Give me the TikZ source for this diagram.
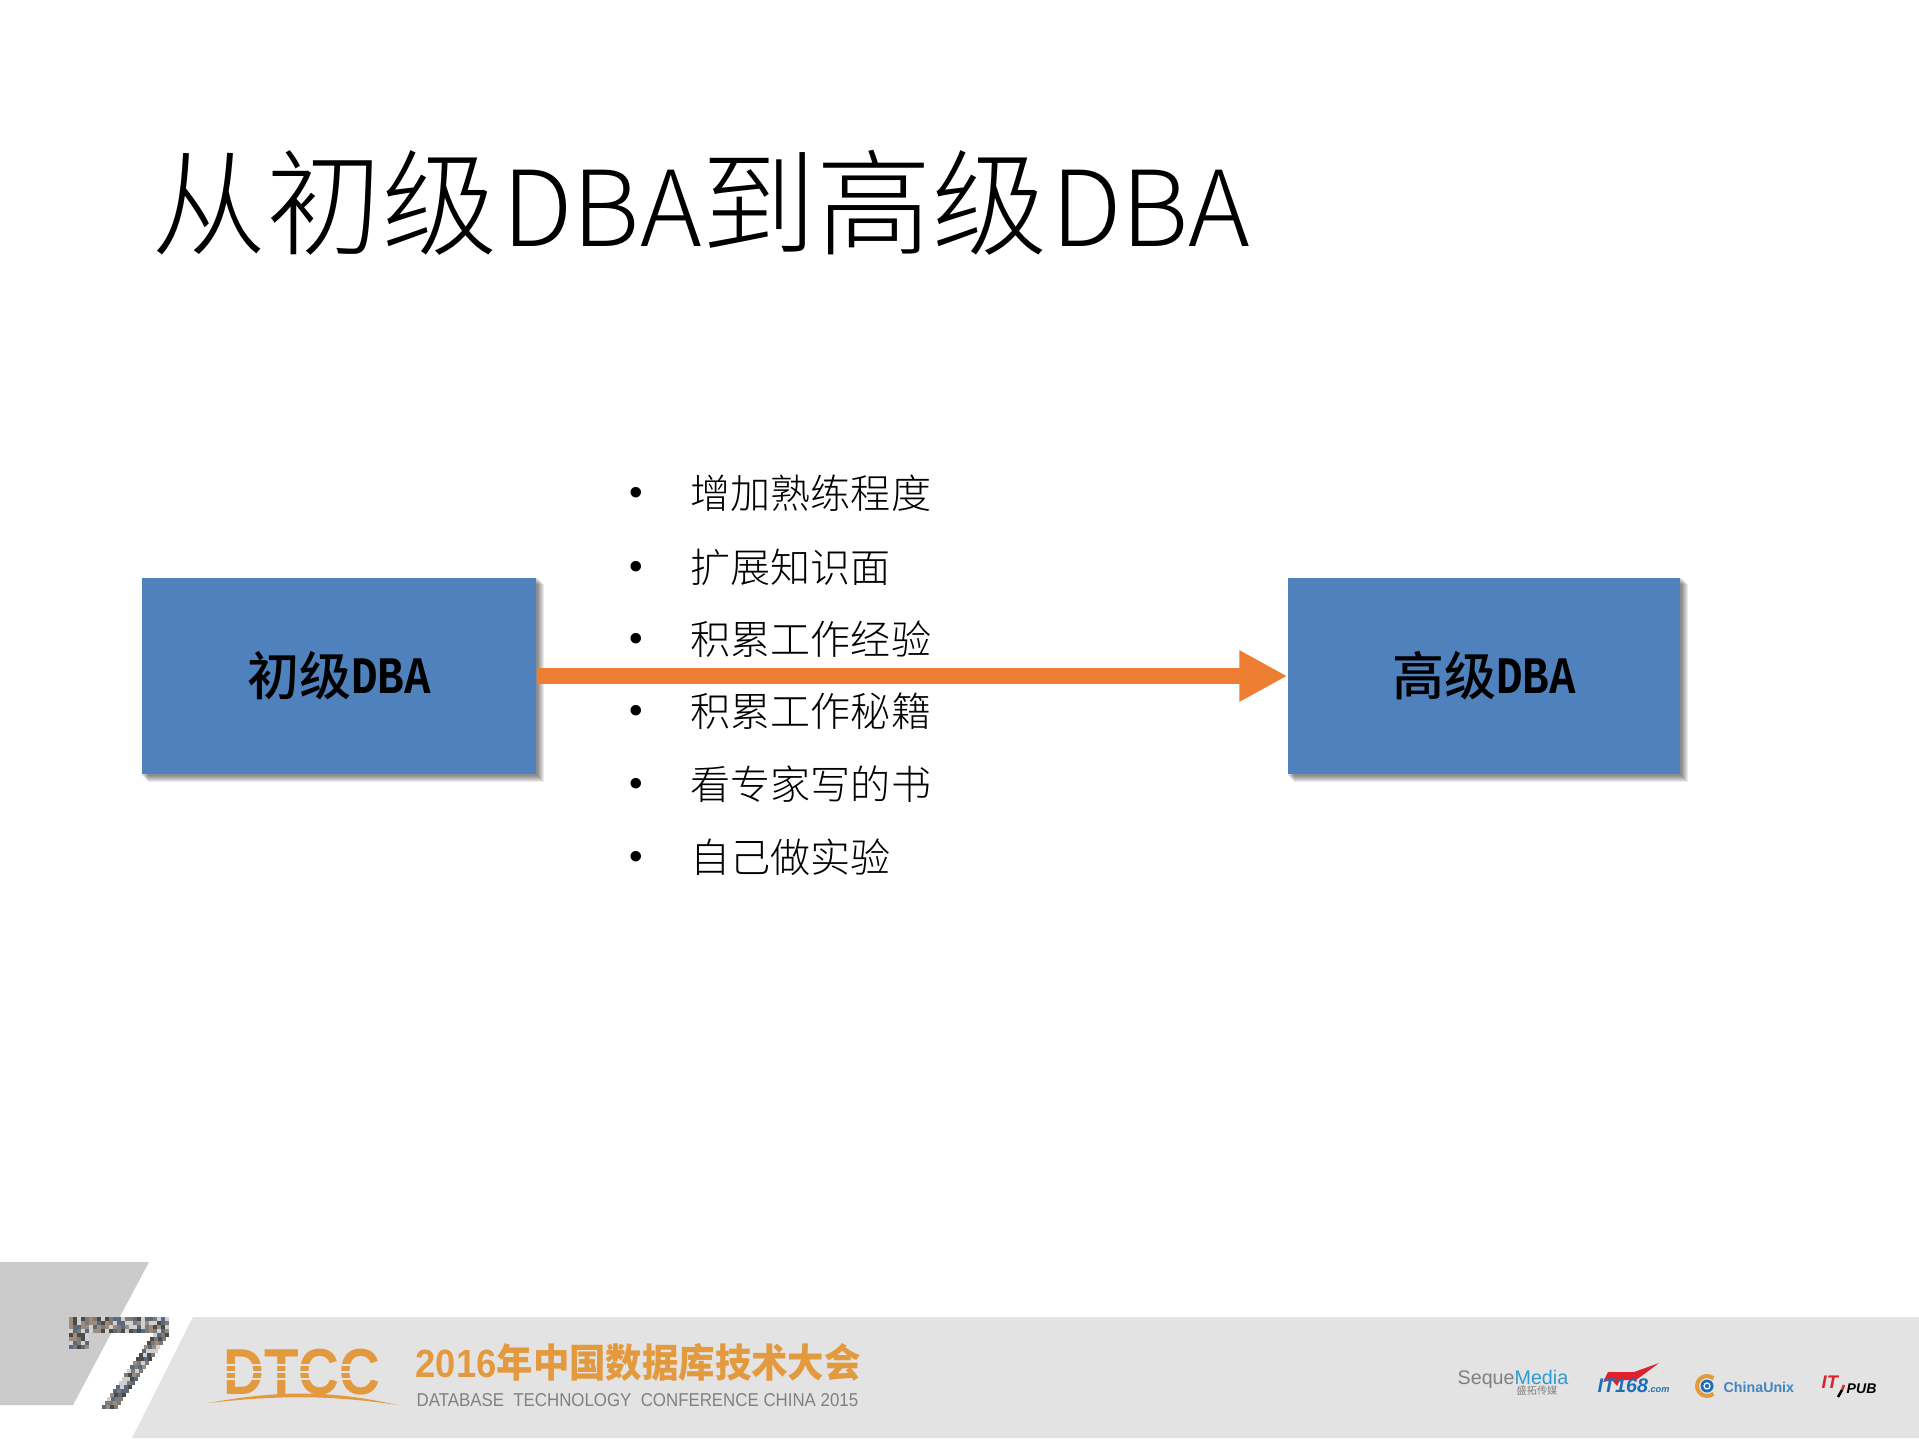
\documentclass[tikz,border=0pt]{standalone}
\usepackage{fontspec}
\setmainfont{Carlito}
\newfontfamily\cjk{Noto Sans CJK SC}
\newfontfamily\cjklight{Noto Sans CJK SC}[UprightFont=* Light]
\newfontfamily\cjkmedium{Noto Sans CJK SC}[UprightFont=* Medium]
\newfontfamily\dbafont{Liberation Mono}[UprightFont=* Bold]
\newfontfamily\heiti{Liberation Sans}
\usepackage{xcolor}
\usetikzlibrary{arrows.meta, positioning, calc, backgrounds}
\definecolor{boxblue}{HTML}{4F81BD}
\definecolor{arroworange}{HTML}{ED7D31}
\definecolor{bandgray}{HTML}{E3E3E3}
\definecolor{wedgegray}{HTML}{CBCBCB}
\definecolor{dtccorange}{HTML}{E39A3F}
\definecolor{seqblue}{HTML}{2E9BD0}
\definecolor{itblue}{HTML}{1F6FB5}
\definecolor{itred}{HTML}{E0202A}
\definecolor{seven1}{HTML}{4A4A4A}
\definecolor{seven2}{HTML}{7E7A76}
\definecolor{seven3}{HTML}{9E8B7B}
\definecolor{seven4}{HTML}{5A6A7E}
\definecolor{seven5}{HTML}{D0D0D0}
\newcommand{\dbalabel}{\raisebox{0.6pt}{\scalebox{0.84}[1]{\dbafont\fontsize{15}{17}\selectfont DBA}}}
\newcommand{\titledba}{{\fontsize{29.8}{36}\selectfont DBA}}
\tikzset{
  levelbox/.style={fill=boxblue, minimum width=3.94cm, minimum height=1.96cm, inner sep=0pt,
    font=\fontsize{14.8}{17}\selectfont\cjkmedium},
  itemtext/.style={anchor=west, inner sep=0pt, font=\fontsize{11.4}{13}\selectfont\cjklight},
  itemdot/.style={inner sep=0pt, font=\fontsize{11}{13}\selectfont\heiti},
  logotext/.style={inner sep=0pt, anchor=west},
}
\begin{document}
\begin{tikzpicture}[x=1cm,y=-1cm]
\useasboundingbox (0,0) rectangle (19.19,14.39);
\node[anchor=west,inner sep=0pt,font=\fontsize{32.8}{36}\selectfont\cjklight] (title) at (1.51,2.03)
  {从初级\hspace{1.4pt}\titledba 到高级\hspace{1pt}\titledba};
\node[levelbox] (junior) at (3.39,6.76) {初级\dbalabel};
\node[levelbox,minimum width=3.92cm] (senior) at (14.84,6.76) {高级\dbalabel};
\begin{scope}[on background layer]
\fill[white] (0,0) rectangle (19.19,14.39);
\foreach \s in {0.01,0.02,0.03,0.04,0.05,0.06,0.07} {
    \fill[black,opacity=0.08] ($(junior.north west)+(\s,\s)$) rectangle ($(junior.south east)+(\s,\s)$);
    \fill[black,opacity=0.08] ($(senior.north west)+(\s,\s)$) rectangle ($(senior.south east)+(\s,\s)$);
}
\end{scope}
\draw[-{Triangle[length=0.48cm,width=0.48cm]},arroworange,line width=0.167cm] (junior.east) -- (senior.west);
\foreach \i/\yy/\txt in {1/4.93/增加熟练程度,2/5.67/扩展知识面,3/6.39/积累工作经验,4/7.11/积累工作秘籍,5/7.84/看专家写的书,6/8.57/自己做实验} {
    \node[itemdot] (dot\i) at (6.36,\yy+0.035) {•};
    \node[itemtext] (item\i) at (6.9,\yy) {\txt};
}
% footer band
\fill[wedgegray] (0,12.62) -- (1.49,12.62) -- (0.73,14.05) -- (0,14.05) -- cycle;
\fill[bandgray] (1.93,13.17) -- (19.19,13.17) -- (19.19,14.38) -- (1.32,14.38) -- cycle;
% mosaic seven
\pgfmathsetseed{7}
\foreach \i in {0,...,24} {
  \foreach \j in {0,...,3} {
    \pgfmathtruncatemacro{\k}{random(1,5)}
    \fill[seven\k] ({0.69+\i*0.04},{13.17+\j*0.04}) rectangle +(0.04,0.04);
  }
}
\foreach \j in {4,...,7} {
  \foreach \i in {0,...,4} {
    \pgfmathtruncatemacro{\k}{random(1,5)}
    \fill[seven\k] ({0.69+\i*0.04},{13.17+\j*0.04}) rectangle +(0.04,0.04);
  }
}
\foreach \j in {0,...,18} {
  \foreach \i in {0,...,3} {
    \pgfmathtruncatemacro{\k}{random(1,5)}
    \fill[seven\k] ({1.53-\j*0.0285+\i*0.04},{13.33+\j*0.04}) rectangle +(0.04,0.04);
  }
}
% DTCC logo
\node[inner sep=0pt,text=dtccorange,font=\fontsize{18.5}{20}\selectfont\heiti\bfseries,xscale=0.87] (dtcc) at (3.02,13.72) {DTCC};
\foreach \yy in {-0.07,0,0.07} {
    \draw[bandgray,line width=0.012cm] ($(dtcc.west)+(0,\yy)$) -- ($(dtcc.east)+(0,\yy)$);
}
\fill[dtccorange] (2.08,14.03) .. controls (2.8,13.9) and (3.3,13.9) .. (3.98,14.05) .. controls (3.3,13.95) and (2.8,13.95) .. (2.08,14.03) -- cycle;
\node[logotext,text=dtccorange,font=\fontsize{11.2}{13}\selectfont\heiti\bfseries,xscale=0.925] (confname) at (4.15,13.62)
  {2016{\cjk\bfseries 年中国数据库技术大会}};
\node[logotext,text=gray,font=\fontsize{5.3}{6}\selectfont\heiti,xscale=0.905] (confeng) at (4.16,14.0)
  {DATABASE\ \ TECHNOLOGY\ \ CONFERENCE CHINA 2015};
% sponsors
\node[logotext,font=\fontsize{5.6}{7}\selectfont\heiti] (seque) at (14.57,13.79)
  {\textcolor{gray}{Seque}\textcolor{seqblue}{Media}};
\node[inner sep=0pt,text=gray,font=\fontsize{2.9}{4}\selectfont\cjk] (seqcn) at (15.37,13.91) {盛拓传媒};
\fill[itred] (16.03,13.82) -- (16.08,13.72) -- (16.34,13.72) -- (16.59,13.63) -- (16.36,13.8) -- (16.2,13.8) -- (16.17,13.86) -- (16.12,13.8) -- cycle;
\node[logotext,text=itblue,font=\fontsize{5.6}{6}\selectfont\heiti\bfseries\itshape] (it168) at (15.97,13.86) {IT168\fontsize{2.6}{3}\selectfont.com};
\coordinate (cuhub) at (17.07,13.86);
\draw[dtccorange,line width=0.04cm] ($(cuhub)+(50:0.1)$) arc (50:310:0.1);
\fill[itblue] (cuhub) circle (0.065);
\draw[white,line width=0.012cm] (cuhub) circle (0.03);
\node[logotext,text=itblue!85,font=\fontsize{4.05}{5}\selectfont\heiti\bfseries] (chinaunix) at (17.23,13.87) {ChinaUnix};
\node[logotext,text=itred,font=\fontsize{5.2}{6}\selectfont\heiti\bfseries\itshape] (itpub1) at (18.21,13.82) {IT};
\node[logotext,text=black,font=\fontsize{4.0}{6}\selectfont\heiti\bfseries\itshape] (itpub2) at (18.46,13.89) {PUB};
\draw[itred,line width=0.025cm] (18.44,13.85) -- (18.42,13.9);
\draw[black,line width=0.025cm] (18.42,13.9) -- (18.38,13.97);
\end{tikzpicture}
\end{document}
